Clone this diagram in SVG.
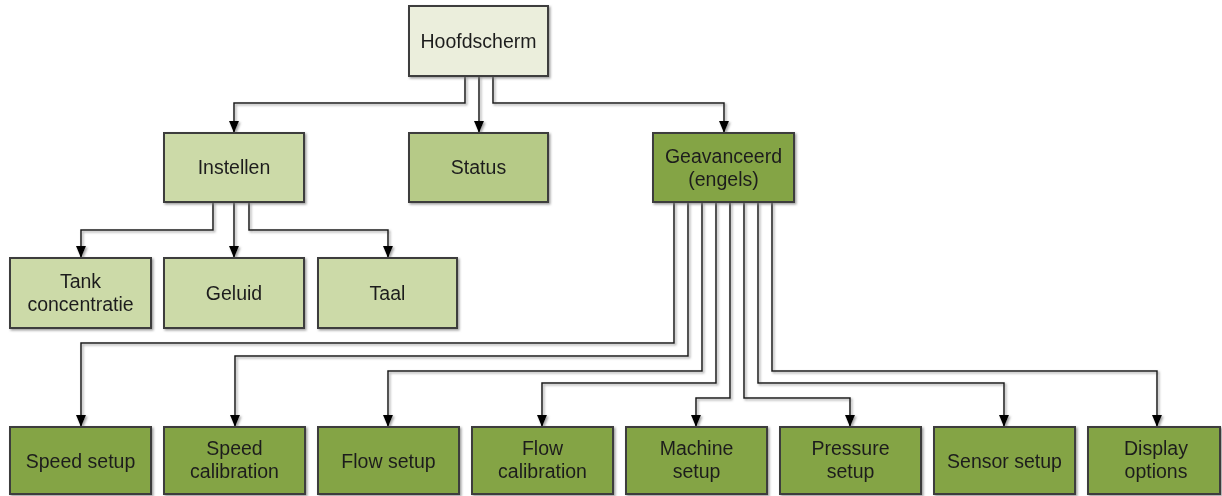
<svg xmlns="http://www.w3.org/2000/svg" width="1222" height="496" viewBox="0 0 1222 496">
<style>
.box{stroke:#3c3c3c;stroke-width:2}
.l1{fill:#EBEEDC}
.l2{fill:#CCDAA8}
.l3{fill:#B6CA87}
.l4{fill:#84A444}
text{font-family:"Liberation Sans",Arial,sans-serif;font-size:19.5px;fill:#1e1e1e;text-anchor:middle}
.con{fill:none;stroke:#1a1a1a;stroke-width:1.5}
</style>
<defs>
<filter id="sh" filterUnits="userSpaceOnUse" x="0" y="0" width="1222" height="496">
<feDropShadow dx="1.5" dy="1.5" stdDeviation="0.8" flood-color="#777" flood-opacity="0.7"/>
</filter>
<marker id="arr" viewBox="0 0 12 10" refX="12" refY="5" markerWidth="12" markerHeight="10" markerUnits="userSpaceOnUse" orient="auto">
<path d="M0,0 L12,5 L0,10 z" fill="#000"/>
</marker>
</defs>
<g id="connectors" filter="url(#sh)">
<path class="con" d="M465,76 V103 H234 V133" marker-end="url(#arr)"/>
<path class="con" d="M479,76 V133" marker-end="url(#arr)"/>
<path class="con" d="M493,76 V103 H724 V133" marker-end="url(#arr)"/>
<path class="con" d="M213,202 V230 H81 V258" marker-end="url(#arr)"/>
<path class="con" d="M234,202 V258" marker-end="url(#arr)"/>
<path class="con" d="M249,202 V230 H388 V258" marker-end="url(#arr)"/>
<path class="con" d="M674,202 V343 H81 V427" marker-end="url(#arr)"/>
<path class="con" d="M688,202 V356 H235 V427" marker-end="url(#arr)"/>
<path class="con" d="M702,202 V371 H388 V427" marker-end="url(#arr)"/>
<path class="con" d="M716,202 V383 H542 V427" marker-end="url(#arr)"/>
<path class="con" d="M730,202 V398 H696 V427" marker-end="url(#arr)"/>
<path class="con" d="M744,202 V398 H850 V427" marker-end="url(#arr)"/>
<path class="con" d="M758,202 V383 H1004 V427" marker-end="url(#arr)"/>
<path class="con" d="M772,202 V371 H1157 V427" marker-end="url(#arr)"/>
</g>
<g id="hoofdscherm" filter="url(#sh)"><rect class="box l1" x="409" y="6" width="139" height="70"/><text x="478.5" y="48">Hoofdscherm</text></g>
<g id="instellen" filter="url(#sh)"><rect class="box l2" x="164" y="133" width="140" height="69"/><text x="234" y="174">Instellen</text></g>
<g id="status" filter="url(#sh)"><rect class="box l3" x="409" y="133" width="139" height="69"/><text x="478.5" y="174">Status</text></g>
<g id="geavanceerd" filter="url(#sh)"><rect class="box l4" x="653" y="133" width="141" height="69"/><text x="723.5" y="163">Geavanceerd</text><text x="723.5" y="186">(engels)</text></g>
<g id="tank" filter="url(#sh)"><rect class="box l2" x="10" y="258" width="141" height="70"/><text x="80.5" y="288">Tank</text><text x="80.5" y="311">concentratie</text></g>
<g id="geluid" filter="url(#sh)"><rect class="box l2" x="164" y="258" width="140" height="70"/><text x="234" y="300">Geluid</text></g>
<g id="taal" filter="url(#sh)"><rect class="box l2" x="318" y="258" width="139" height="70"/><text x="387.5" y="300">Taal</text></g>
<g id="speed-setup" filter="url(#sh)"><rect class="box l4" x="10" y="427" width="141" height="67"/><text x="80.5" y="468">Speed setup</text></g>
<g id="speed-calibration" filter="url(#sh)"><rect class="box l4" x="164" y="427" width="141" height="67"/><text x="234.5" y="455">Speed</text><text x="234.5" y="478">calibration</text></g>
<g id="flow-setup" filter="url(#sh)"><rect class="box l4" x="318" y="427" width="141" height="67"/><text x="388.5" y="468">Flow setup</text></g>
<g id="flow-calibration" filter="url(#sh)"><rect class="box l4" x="472" y="427" width="141" height="67"/><text x="542.5" y="455">Flow</text><text x="542.5" y="478">calibration</text></g>
<g id="machine-setup" filter="url(#sh)"><rect class="box l4" x="626" y="427" width="141" height="67"/><text x="696.5" y="455">Machine</text><text x="696.5" y="478">setup</text></g>
<g id="pressure-setup" filter="url(#sh)"><rect class="box l4" x="780" y="427" width="141" height="67"/><text x="850.5" y="455">Pressure</text><text x="850.5" y="478">setup</text></g>
<g id="sensor-setup" filter="url(#sh)"><rect class="box l4" x="934" y="427" width="141" height="67"/><text x="1004.5" y="468">Sensor setup</text></g>
<g id="display-options" filter="url(#sh)"><rect class="box l4" x="1088" y="427" width="132" height="67"/><text x="1156" y="455">Display</text><text x="1156" y="478">options</text></g>
</svg>
